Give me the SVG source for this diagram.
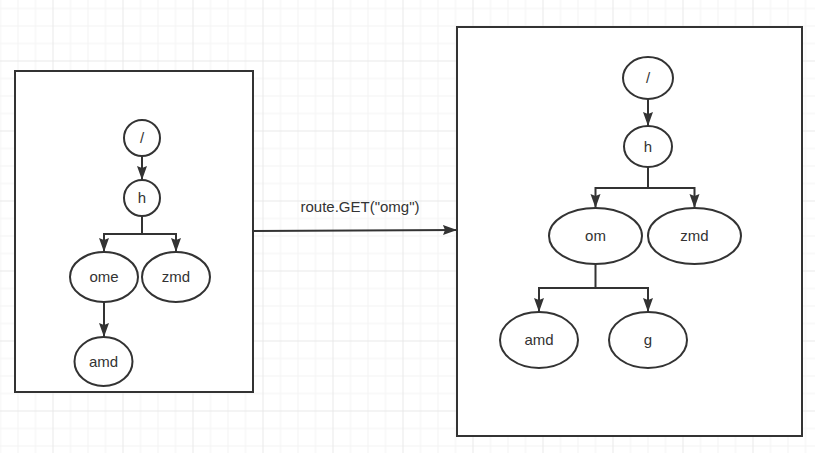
<svg xmlns="http://www.w3.org/2000/svg" width="815" height="453" viewBox="0 0 815 453">
<defs>
<pattern id="grid" x="52.5" y="60.5" width="70" height="70" patternUnits="userSpaceOnUse">
<rect x="17.5" y="0" width="1" height="70" fill="#f3f3f3"/>
<rect x="35" y="0" width="1" height="70" fill="#f3f3f3"/>
<rect x="52.5" y="0" width="1" height="70" fill="#f3f3f3"/>
<rect x="0" y="17.5" width="70" height="1" fill="#f3f3f3"/>
<rect x="0" y="35" width="70" height="1" fill="#f3f3f3"/>
<rect x="0" y="52.5" width="70" height="1" fill="#f3f3f3"/>
<rect x="0" y="0" width="1" height="70" fill="#e8e8e8"/>
<rect x="0" y="0" width="70" height="1" fill="#e8e8e8"/>
</pattern>
<marker id="arr" markerUnits="userSpaceOnUse" markerWidth="16" markerHeight="12" refX="14" refY="5" orient="auto">
<path d="M0,0 L14,5 L0,10 L2,5 z" fill="#333"/>
</marker>
</defs>
<style>
.box{fill:#fff;stroke:#333;stroke-width:2}
.nd{fill:#fff;stroke:#333;stroke-width:2}
.lbl{font-family:"Liberation Sans",Arial,sans-serif;font-size:15px;fill:#333;text-anchor:middle}
.edge{fill:none;stroke:#333;stroke-width:2}
</style>
<rect x="0" y="0" width="815" height="453" fill="#fff"/>
<rect x="0" y="0" width="815" height="453" fill="url(#grid)"/>

<g id="left-frame"><rect class="box" x="15" y="71" width="238" height="321"/></g>
<g id="right-frame"><rect class="box" x="457" y="27" width="345" height="409"/></g>

<g id="connectors">
<path class="edge" d="M253,231 L457,230" marker-end="url(#arr)"/>
<path class="edge" d="M142,156 V180" marker-end="url(#arr)"/>
<path class="edge" d="M142,216 V234 H104 V252" marker-end="url(#arr)"/>
<path class="edge" d="M142,234 H176 V252" marker-end="url(#arr)"/>
<path class="edge" d="M104,302 V337" marker-end="url(#arr)"/>
<path class="edge" d="M648,99 V126" marker-end="url(#arr)"/>
<path class="edge" d="M648,167 V188 H595.5 V208" marker-end="url(#arr)"/>
<path class="edge" d="M648,188 H694.5 V208" marker-end="url(#arr)"/>
<path class="edge" d="M595.5,264 V288 H539 V312" marker-end="url(#arr)"/>
<path class="edge" d="M595.5,288 H648 V312" marker-end="url(#arr)"/>
</g>
<g id="edge-label"><text class="lbl" x="360" y="212">route.GET("omg")</text></g>

<g id="l-root"><circle class="nd" cx="142" cy="138" r="18"/><text class="lbl" x="142" y="143">/</text></g>
<g id="l-h"><circle class="nd" cx="142" cy="198" r="18"/><text class="lbl" x="142" y="203">h</text></g>
<g id="l-ome"><ellipse class="nd" cx="104" cy="277" rx="34" ry="25"/><text class="lbl" x="104" y="282">ome</text></g>
<g id="l-zmd"><ellipse class="nd" cx="176" cy="277" rx="34" ry="25"/><text class="lbl" x="176" y="282">zmd</text></g>
<g id="l-amd"><ellipse class="nd" cx="103.5" cy="361.5" rx="29" ry="24.5"/><text class="lbl" x="103.5" y="366.5">amd</text></g>

<g id="r-root"><ellipse class="nd" cx="648" cy="78" rx="25" ry="21"/><text class="lbl" x="648" y="83">/</text></g>
<g id="r-h"><ellipse class="nd" cx="648" cy="146.5" rx="24" ry="20.5"/><text class="lbl" x="648" y="151.5">h</text></g>
<g id="r-om"><ellipse class="nd" cx="595.5" cy="236" rx="46.5" ry="28"/><text class="lbl" x="595.5" y="241">om</text></g>
<g id="r-zmd"><ellipse class="nd" cx="694.5" cy="236" rx="46.5" ry="28"/><text class="lbl" x="694.5" y="241">zmd</text></g>
<g id="r-amd"><ellipse class="nd" cx="539" cy="340" rx="39" ry="28"/><text class="lbl" x="539" y="345">amd</text></g>
<g id="r-g"><ellipse class="nd" cx="648" cy="340" rx="39" ry="28"/><text class="lbl" x="648" y="345">g</text></g>
</svg>
